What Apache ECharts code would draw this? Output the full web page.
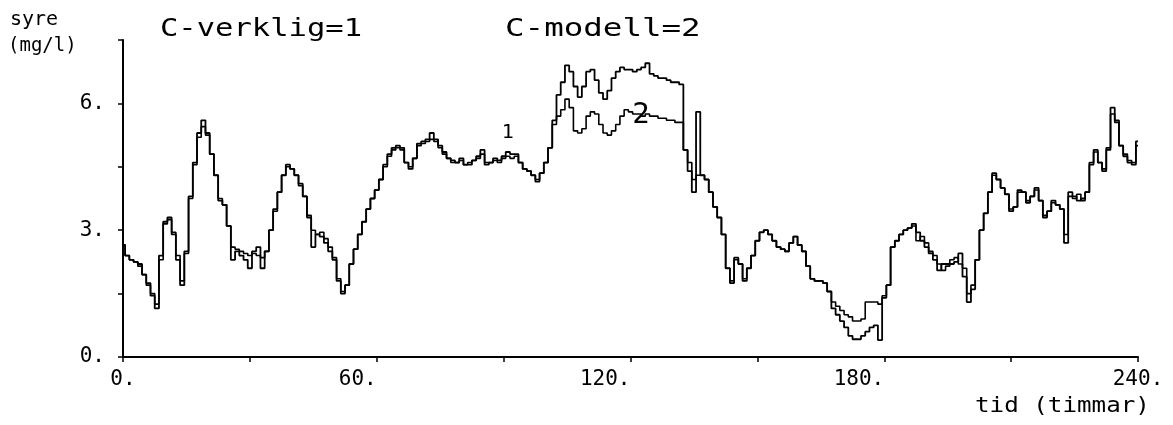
<!DOCTYPE html>
<html>
<head>
<meta charset="utf-8">
<script src="https://cdn.jsdelivr.net/npm/echarts@6/dist/echarts.min.js"></script>
<style>
html,body{margin:0;padding:0;background:#fff;}
#chart{width:1173px;height:425px;}
</style>
</head>
<body>
<div id="chart"></div>
<script>
// hours 0..240 (hourly)
const cVerklig = [
2.65,2.4,2.3,2.25,2.2,1.95,1.75,1.45,1.15,2.4,
3.2,3.3,2.9,2.3,1.7,2.5,3.8,4.6,5.3,5.6,
5.3,4.8,4.3,3.7,3.6,3.1,2.3,2.5,2.4,2.3,
2.1,2.5,2.6,2.1,2.5,3.0,3.5,3.9,4.3,4.55,
4.45,4.3,4.1,3.8,3.3,2.6,2.9,2.85,2.7,2.5,
2.3,1.8,1.5,1.7,2.2,2.55,2.9,3.2,3.5,3.75,
3.95,4.2,4.55,4.8,4.95,5.0,4.95,4.6,4.45,4.7,
5.05,5.1,5.15,5.3,5.15,5.0,4.85,4.7,4.65,4.6,
4.7,4.55,4.55,4.65,4.75,4.9,4.55,4.6,4.7,4.65,
4.75,4.85,4.8,4.8,4.6,4.45,4.4,4.3,4.15,4.35,
4.6,4.95,5.6,6.2,6.5,6.9,6.75,6.4,6.15,6.4,
6.75,6.8,6.55,6.25,6.1,6.3,6.6,6.75,6.85,6.8,
6.8,6.75,6.8,6.85,6.95,6.7,6.65,6.6,6.6,6.55,
6.5,6.5,6.45,4.9,4.4,3.9,5.8,4.3,4.2,3.9,
3.55,3.3,2.9,2.1,1.75,2.35,2.2,1.8,2.1,2.4,
2.75,2.95,3.0,2.9,2.75,2.6,2.55,2.5,2.7,2.85,
2.65,2.5,2.15,1.85,1.8,1.8,1.75,1.55,1.15,1.0,
0.85,0.7,0.5,0.42,0.42,0.5,0.6,0.7,0.75,0.4,
1.4,1.7,2.6,2.75,2.9,3.0,3.05,3.15,2.95,2.75,
2.6,2.45,2.3,2.05,2.2,2.2,2.2,2.25,2.45,1.9,
1.3,1.6,2.3,3.0,3.4,3.9,4.35,4.2,4.0,3.85,
3.45,3.55,3.95,3.9,3.65,3.8,4.0,3.7,3.3,3.45,
3.7,3.6,3.5,2.7,3.9,3.8,3.7,3.75,3.9,4.6,
4.9,4.6,4.4,4.95,5.9,5.6,5.0,4.75,4.6,4.55,
5.1
];
const cModell = [
2.65,2.4,2.3,2.25,2.15,1.95,1.7,1.5,1.25,2.3,
3.15,3.25,2.95,2.4,1.8,2.45,3.75,4.55,5.2,5.45,
5.25,4.8,4.3,3.75,3.6,3.1,2.6,2.55,2.5,2.45,
2.4,2.45,2.4,2.35,2.5,3.0,3.45,3.9,4.3,4.5,
4.45,4.3,4.05,3.8,3.35,3.0,2.9,2.95,2.8,2.6,
2.35,1.85,1.55,1.7,2.2,2.55,2.9,3.2,3.5,3.75,
3.95,4.2,4.5,4.75,4.9,4.95,4.9,4.6,4.5,4.7,
5.0,5.05,5.1,5.15,5.1,4.95,4.8,4.7,4.6,4.6,
4.65,4.55,4.6,4.65,4.7,4.8,4.6,4.6,4.65,4.6,
4.7,4.75,4.7,4.75,4.6,4.45,4.4,4.3,4.2,4.35,
4.6,4.95,5.5,5.7,5.85,6.1,5.9,5.35,5.3,5.4,
5.7,5.8,5.75,5.5,5.3,5.25,5.35,5.5,5.7,5.85,
5.8,5.75,5.75,5.7,5.75,5.7,5.7,5.65,5.65,5.6,
5.6,5.55,5.55,4.9,4.6,4.2,4.3,4.3,4.2,3.9,
3.55,3.3,2.9,2.1,1.8,2.3,2.2,1.85,2.1,2.4,
2.75,2.95,3.0,2.9,2.75,2.6,2.55,2.5,2.7,2.85,
2.65,2.5,2.15,1.85,1.8,1.8,1.75,1.55,1.3,1.2,
1.1,1.0,0.95,0.85,0.85,0.9,1.3,1.3,1.3,1.25,
1.45,1.7,2.6,2.75,2.9,3.0,3.05,3.1,2.75,2.85,
2.7,2.5,2.4,2.2,2.05,2.15,2.3,2.35,2.2,2.1,
1.5,1.7,2.3,3.0,3.4,3.9,4.3,4.2,4.0,3.85,
3.5,3.55,3.9,3.9,3.7,3.8,3.95,3.7,3.35,3.45,
3.65,3.6,3.5,2.9,3.8,3.75,3.85,3.7,3.9,4.55,
4.85,4.6,4.45,4.9,5.75,5.55,5.0,4.8,4.65,4.6,
5.0
];
const xTicks = [0, 60, 120, 180, 240];
const yTicks = [0, 3, 6];
const seriesNames = ['C-verklig=1', 'C-modell=2'];
const curveMarks1 = [{ t: 91, v: 5.3, text: '1' }];
const curveMarks2 = [{ t: 122.5, v: 5.72, text: '2' }];

const toPairs = arr => arr.map((v, i) => [i, v]);
const font = '"DejaVu Sans Mono", "Liberation Mono", monospace';

const chart = echarts.init(document.getElementById('chart'));
const mkMarks = (list, size) => ({
  symbol: 'rect',
  symbolSize: 1,
  itemStyle: { color: 'rgba(0,0,0,0)' },
  label: { show: true, formatter: p => p.name, color: '#000', fontFamily: font, fontSize: size, position: 'inside' },
  data: list.map(m => ({ name: m.text, coord: [m.t, m.v] }))
});

chart.setOption({
  animation: false,
  backgroundColor: '#fff',
  grid: { left: 123, right: 35, top: 40, bottom: 68 },
  xAxis: {
    type: 'value', min: 0, max: 240, interval: 30,
    axisLine: { show: true, lineStyle: { color: '#000', width: 2 } },
    axisTick: { show: true, length: 5, inside: false, lineStyle: { color: '#000', width: 1.5 } },
    splitLine: { show: false },
    axisLabel: {
      color: '#000', fontFamily: font, fontSize: 21, margin: 12,
      align: 'right', alignMinLabel: 'center', alignMaxLabel: 'center',
      formatter: v => xTicks.includes(v) ? v + '.' : ''
    }
  },
  yAxis: {
    type: 'value', min: 0, max: 7.5, interval: 1.5,
    axisLine: { show: true, lineStyle: { color: '#000', width: 2 } },
    axisTick: { show: true, length: 5, lineStyle: { color: '#000', width: 1.5 } },
    splitLine: { show: false },
    axisLabel: {
      color: '#000', fontFamily: font, fontSize: 21, margin: 18,
      formatter: v => yTicks.some(t => Math.abs(t - v) < 1e-6) ? Math.round(v) + '.' : ''
    }
  },
  series: [
    {
      name: seriesNames[0], type: 'line', data: toPairs(cVerklig),
      showSymbol: false, symbol: 'none', step: 'middle',
      lineStyle: { color: '#000', width: 1.8 },
      markPoint: mkMarks(curveMarks1, 20)
    },
    {
      name: seriesNames[1], type: 'line', data: toPairs(cModell),
      showSymbol: false, symbol: 'none', step: 'middle',
      lineStyle: { color: '#000', width: 1.6 },
      markPoint: mkMarks(curveMarks2, 29)
    }
  ],
  graphic: [
    { type: 'text', left: 10, top: 10, style: { text: 'syre', fill: '#000', font: '20px ' + font } },
    { type: 'text', left: 8, top: 37, style: { text: '(mg/l)', fill: '#000', font: '19px ' + font } },
    { type: 'text', x: 160, y: 17, scaleX: 1.22, style: { text: seriesNames[0], fill: '#000', font: '25px ' + font } },
    { type: 'text', x: 505, y: 17, scaleX: 1.3, style: { text: seriesNames[1], fill: '#000', font: '25px ' + font } },
    { type: 'text', x: 975, y: 395, scaleX: 1.1, style: { text: 'tid (timmar)', fill: '#000', font: '22px ' + font } }
  ]
});
</script>
</body>
</html>
